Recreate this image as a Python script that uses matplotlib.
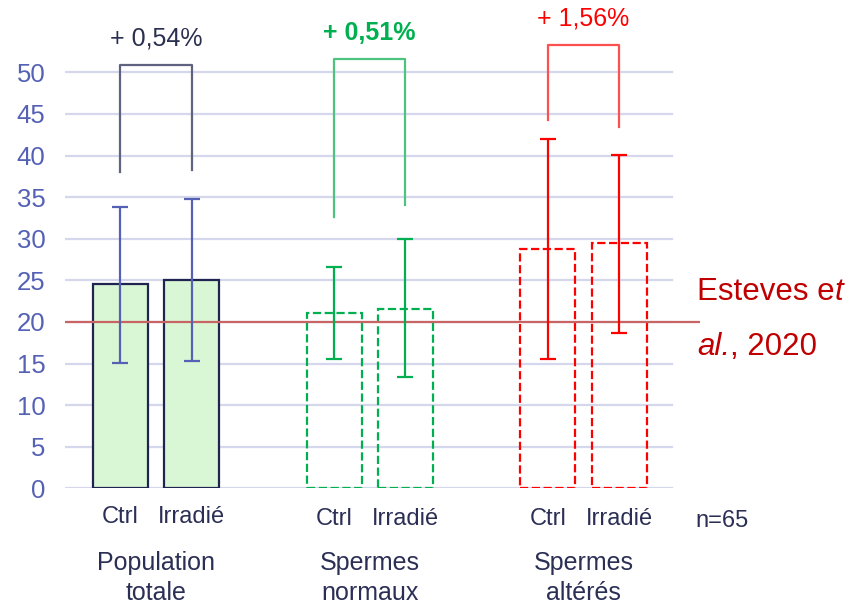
import matplotlib.pyplot as plt
import numpy as np

# données
groupes = ['Population\ntotale', 'Spermes\nnormaux', 'Spermes\naltérés']
conditions = ['Ctrl', 'Irradié']
moy_ctrl = [24.5, 21.1, 28.8]
moy_irr = [25.0, 21.55, 29.5]
err_ctrl_haut = [33.8, 26.6, 42.0]
err_ctrl_bas = [15.1, 15.6, 15.6]
err_irr_haut = [34.8, 30.0, 40.1]
err_irr_bas = [15.3, 13.4, 18.7]
delta = ['+ 0,54%', '+ 0,51%', '+ 1,56%']
crochet_haut = [50.9, 51.6, 53.3]
crochet_g = [38.0, 32.6, 44.3]
crochet_d = [38.3, 34.1, 43.4]
seuil = 20
yticks = list(range(0, 55, 5))

plt.rcParams['font.family'] = ['Liberation Sans', 'DejaVu Sans']

W, H = 851, 608
fig = plt.figure(figsize=(W / 100, H / 100), dpi=100)
px_unit = 8.32
y0 = 488.3
ymax = 58
ax = fig.add_axes([65 / W, (H - y0) / H, (700 - 65) / W, ymax * px_unit / H])
xl = -(156 - 65) / 213.7
xr = (700 - 156) / 213.7
ax.set_xlim(xl, xr)
ax.set_ylim(0, ymax)
for s in ax.spines.values():
    s.set_visible(False)
ax.set_xticks([])
ax.set_yticks(yticks)
ax.set_yticklabels([str(t) for t in yticks], color='#5561b5', fontsize=18.5)
ax.tick_params(axis='y', length=0, pad=14)

xgrid = (672 - 65) / 213.7 + xl
for t in yticks:
    ax.plot([xl, xgrid], [t, t], color='#d5d8ec', lw=1.6, zorder=0)
ax.plot([xl, xr], [seuil, seuil], color='#c86464', lw=1.6, zorder=3)

bords = ['#1f2550', '#00b050', '#ff0000']
fonds = ['#d9f7d4', 'none', 'none']
styles = ['-', '--', '--']
err_col = ['#5561b5', '#00b050', '#ff0000']
crochet_col = ['#5f6380', '#4cc47f', '#ff5050']
txt_col = ['#2b3050', '#00b050', '#ff0000']
txt_w = ['normal', 'bold', 'normal']
y_cond = [-2.1, -2.4, -2.4]

off = 35.7 / 213.7
larg = 55 / 213.7
x = np.arange(len(groupes))
for i in range(len(groupes)):
    xs = [x[i] - off, x[i] + off]
    moys = [moy_ctrl[i], moy_irr[i]]
    ax.bar(xs, moys, width=larg, color=fonds[i], edgecolor=bords[i],
           linewidth=1.6, linestyle=styles[i], zorder=2)
    hauts = [err_ctrl_haut[i], err_irr_haut[i]]
    bas = [err_ctrl_bas[i], err_irr_bas[i]]
    ax.errorbar(xs, moys, yerr=[np.array(moys) - bas, np.array(hauts) - moys],
                fmt='none', ecolor=err_col[i], elinewidth=1.6, capsize=6,
                capthick=1.6, zorder=4)
    ax.plot([xs[0], xs[0], xs[1], xs[1]],
            [crochet_g[i], crochet_haut[i], crochet_haut[i], crochet_d[i]],
            color=crochet_col[i], lw=1.6, clip_on=False)
    ax.text(x[i], crochet_haut[i] + 2.3, delta[i], ha='center', va='baseline',
            color=txt_col[i], fontsize=18, fontweight=txt_w[i], clip_on=False)
    for j in range(2):
        ax.text(xs[j], y_cond[i], conditions[j], ha='center', va='top',
                color='#2b2f55', fontsize=17, clip_on=False)
    ax.text(x[i], -7.5, groupes[i], ha='center', va='top', color='#2b2f55',
            fontsize=18, linespacing=1.35, clip_on=False)

fig.text(695 / W, 1 - 521 / H, 'n=65', ha='left', va='center',
         color='#2b2f55', fontsize=17)

# référence Esteves et al., 2020
t1 = fig.text(697 / W, 1 - 300 / H, 'Esteves e', ha='left', va='baseline',
              color='#c00000', fontsize=22.5)
ax.annotate('t', xy=(1, 0), xycoords=t1, va='bottom', ha='left',
            color='#c00000', fontsize=22.5, style='italic', annotation_clip=False)
t2 = fig.text(697 / W, 1 - 355 / H, 'al.', ha='left', va='baseline',
              color='#c00000', fontsize=22.5, style='italic')
ax.annotate(', 2020', xy=(1, 0), xycoords=t2, va='bottom', ha='left',
            color='#c00000', fontsize=22.5, annotation_clip=False)

fig.savefig('out.png', dpi=100)
